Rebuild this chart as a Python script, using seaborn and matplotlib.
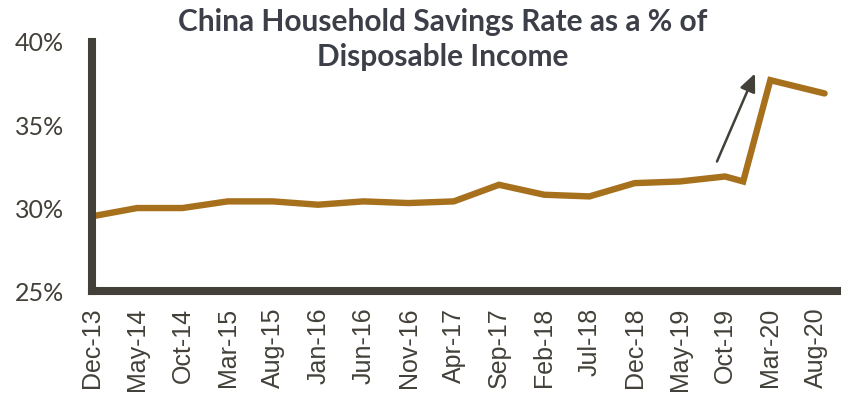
import matplotlib
matplotlib.use("Agg")
import matplotlib.pyplot as plt
import seaborn as sns
import pandas as pd

# Month offsets from Dec-13 and household savings rate (%)
months = [0, 5, 10, 15, 20, 25, 30, 35, 40, 45, 50, 55, 60, 65, 70, 72, 75, 81]
savings_rate = [29.5, 30.0, 30.0, 30.4, 30.4, 30.2, 30.4, 30.3, 30.4, 31.4,
                30.8, 30.7, 31.5, 31.6, 31.9, 31.6, 37.7, 36.9]

tick_months = list(range(0, 81, 5))
tick_labels = ["Dec-13", "May-14", "Oct-14", "Mar-15", "Aug-15", "Jan-16",
               "Jun-16", "Nov-16", "Apr-17", "Sep-17", "Feb-18", "Jul-18",
               "Dec-18", "May-19", "Oct-19", "Mar-20", "Aug-20"]
y_ticks = [25, 30, 35, 40]
y_labels = ["25%", "30%", "35%", "40%"]

title = "China Household Savings Rate as a % of\nDisposable Income"

df = pd.DataFrame({"month": months, "rate": savings_rate})

sns.set_theme(style="white")
plt.rcParams["font.family"] = ["Liberation Sans", "DejaVu Sans"]

dark = "#434039"
gold = "#A7701D"

fig = plt.figure(figsize=(8.44, 3.96), dpi=100)
ax = fig.add_axes([0.109, 0.265, 0.883, 0.629])

sns.lineplot(data=df, x="month", y="rate", ax=ax, color=gold, linewidth=4.6,
             solid_joinstyle="miter", solid_capstyle="round", clip_on=False)

ax.set_xlim(0, 82.4)
ax.set_ylim(25, 40)
ax.set_xticks(tick_months)
ax.set_xticklabels(tick_labels, rotation=90, fontsize=18, color=dark)
ax.set_yticks(y_ticks)
ax.set_yticklabels(y_labels, fontsize=18, color=dark, family=["Lato", "DejaVu Sans"])
ax.tick_params(axis="x", length=0, pad=12)
ax.tick_params(axis="y", length=0, pad=20)
ax.set_xlabel("")
ax.set_ylabel("")

for side in ["top", "right"]:
    ax.spines[side].set_visible(False)
for side in ["left", "bottom"]:
    ax.spines[side].set_color(dark)
    ax.spines[side].set_linewidth(5.8)

# Arrow highlighting the 2020 jump
ax.annotate("", xy=(73.3, 38.1), xytext=(69.1, 32.8),
            arrowprops=dict(arrowstyle="-|>,head_length=0.9,head_width=0.4",
                            color=dark, lw=1.8, shrinkA=0, shrinkB=0))

fig.text(0.525, 0.98, title, ha="center", va="top", fontsize=21.5,
         fontweight="bold", color="#3d3f48", linespacing=1.3,
         family=["Lato", "DejaVu Sans"])

fig.savefig("out.png", dpi=100)
